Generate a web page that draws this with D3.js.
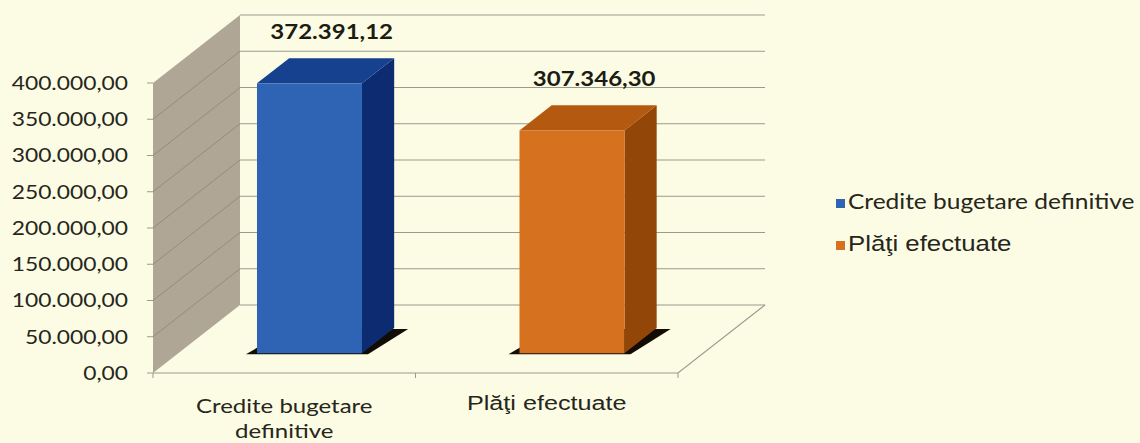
<!DOCTYPE html>
<html>
<head>
<meta charset="utf-8">
<script src="https://cdn.jsdelivr.net/npm/d3@7"></script>
<style>
  html, body { margin: 0; padding: 0; background: #fcfce5; }
  svg { display: block; }
</style>
</head>
<body>
<div id="chart"></div>
<script>
// data
const categories = ["Credite bugetare definitive", "Plăţi efectuate"];
const values = [372391.12, 307346.30];
const categoryLines = [["Credite bugetare", "definitive"], ["Plăţi efectuate"]];
const yTicks = [0, 50000, 100000, 150000, 200000, 250000, 300000, 350000, 400000];

const W = 1140, H = 443;
const front = { left: 153, right: 678, bottom: 373, top: 83 };
const depth = { dx: 87, dy: -68 };     // full depth of the box
const barDepth = [0.29, 0.66];         // where the bars sit inside the box
const SX = 1.2;                        // the original text is stretched sideways

const colors = [
  { front: "#2f63b4", side: "#0c2b70", top: "#15418f" },
  { front: "#d6711f", side: "#924608", top: "#b45a10" }
];
const calibriLike = "Lato, 'Open Sans', sans-serif";
const arialLike = "'Liberation Sans', Arial, sans-serif";

const ro = d3.formatLocale({ decimal: ",", thousands: ".", grouping: [3], currency: ["", ""] });
const fmt = ro.format(",.2f");

const svg = d3.select("#chart").append("svg").attr("width", W).attr("height", H);

const x = d3.scaleBand().domain(categories).range([front.left, front.right]);
const y = d3.scaleLinear().domain([0, 400000]).range([front.bottom, front.top]);

// project a front-plane point back by depth fraction d
const P = (px, py, d) => [px + depth.dx * d, py + depth.dy * d];
const poly = pts => pts.map(p => p.join(",")).join(" ");
const place = (px, py) => `translate(${px},${py}) scale(${SX},1)`;

// side wall
svg.append("polygon")
  .attr("points", poly([P(front.left, y(0), 0), P(front.left, y(400000), 0), P(front.left, y(400000), 1), P(front.left, y(0), 1)]))
  .attr("fill", "#b0a695");

svg.append("g").selectAll("line").data(yTicks.slice(1, -1)).join("line")
  .attr("x1", front.left).attr("y1", d => y(d))
  .attr("x2", front.left + depth.dx).attr("y2", d => y(d) + depth.dy)
  .attr("stroke", "#958b7b").attr("stroke-width", 1);

// back wall gridlines
svg.append("g").selectAll("line").data(yTicks).join("line")
  .attr("x1", front.left + depth.dx).attr("x2", front.right + depth.dx)
  .attr("y1", d => y(d) + depth.dy).attr("y2", d => y(d) + depth.dy)
  .attr("stroke", "#9a9a8e").attr("stroke-width", 1.2);

// floor outline
svg.append("polyline")
  .attr("points", poly([P(front.left, y(0), 0), P(front.right, y(0), 0), P(front.right, y(0), 1)]))
  .attr("fill", "none").attr("stroke", "#9a9a8e").attr("stroke-width", 1.2);

// y axis ticks and labels
svg.append("g").selectAll("line").data(yTicks).join("line")
  .attr("x1", front.left - 6).attr("x2", front.left)
  .attr("y1", d => y(d)).attr("y2", d => y(d))
  .attr("stroke", "#9a9a8e");

svg.append("g").selectAll("text").data(yTicks).join("text")
  .attr("transform", d => place(128, y(d)))
  .attr("dy", "0.36em")
  .attr("text-anchor", "end")
  .attr("font-family", calibriLike).attr("font-size", 19)
  .attr("fill", "#26261a")
  .text(d => fmt(d));

// x axis ticks
const xTicks = [front.left, ...categories.slice(1).map(c => x(c)), front.right];
svg.append("g").selectAll("line").data(xTicks).join("line")
  .attr("x1", d => d).attr("x2", d => d)
  .attr("y1", front.bottom).attr("y2", front.bottom + 5)
  .attr("stroke", "#9a9a8e");

// bars
const bw = x.bandwidth() * 0.4;
const bars = svg.append("g").selectAll("g").data(values).join("g");

bars.each(function(v, i) {
  const g = d3.select(this);
  const x0 = x(categories[i]) + (x.bandwidth() - bw) / 2;
  const x1 = x0 + bw;
  const [d0, d1] = barDepth;
  const c = colors[i];
  // shadow on the floor
  const s0 = P(x0 - 11, y(0) + 1, d0), s1 = P(x1 + 6, y(0) + 1, d0),
        s2 = P(x1 + 14, y(0) + 1, d1), s3 = P(x0, y(0) + 1, d1);
  g.append("polygon").attr("points", poly([s0, s1, s2, s3])).attr("fill", "#120c05");
  // side
  g.append("polygon")
    .attr("points", poly([P(x1, y(0), d0), P(x1, y(v), d0), P(x1, y(v), d1), P(x1, y(0), d1)]))
    .attr("fill", c.side);
  // top
  g.append("polygon")
    .attr("points", poly([P(x0, y(v), d0), P(x1, y(v), d0), P(x1, y(v), d1), P(x0, y(v), d1)]))
    .attr("fill", c.top);
  // front
  const f0 = P(x0, y(v), d0), f1 = P(x1, y(0), d0);
  g.append("rect")
    .attr("x", f0[0]).attr("y", f0[1])
    .attr("width", f1[0] - f0[0]).attr("height", f1[1] - f0[1])
    .attr("fill", c.front);
  // value label
  const t = P(x0 + bw / 2 - 10, y(v), d1);
  g.append("text")
    .attr("transform", place(t[0], t[1] - 19))
    .attr("text-anchor", "middle")
    .attr("font-family", calibriLike).attr("font-weight", "bold")
    .attr("font-size", 20).attr("fill", "#1c1c14")
    .text(fmt(v));
});

// category labels
const catFonts = [calibriLike, arialLike];
svg.append("g").selectAll("text").data(categories).join("text")
  .attr("transform", (d, i) => place(x(d) + x.bandwidth() / 2, i === 0 ? 413 : 410))
  .attr("text-anchor", "middle")
  .attr("font-family", (d, i) => catFonts[i])
  .attr("font-size", (d, i) => i === 0 ? 20 : 21)
  .attr("fill", "#26261a")
  .each(function(d, i) {
    d3.select(this).selectAll("tspan").data(categoryLines[i]).join("tspan")
      .attr("x", 0)
      .attr("dy", (l, j) => j === 0 ? 0 : 25)
      .text(l => l);
  });

// legend
const legend = svg.append("g").attr("transform", "translate(836,199)");
const li = legend.selectAll("g").data(categories).join("g")
  .attr("transform", (d, i) => `translate(0,${i * 42})`);
li.append("rect").attr("width", 9).attr("height", 9).attr("fill", (d, i) => colors[i].front);
li.append("text")
  .attr("transform", place(12, 10))
  .attr("font-family", (d, i) => catFonts[i])
  .attr("font-size", (d, i) => i === 0 ? 20.4 : 21.5)
  .attr("fill", "#26261a")
  .text(d => d);
</script>
</body>
</html>
